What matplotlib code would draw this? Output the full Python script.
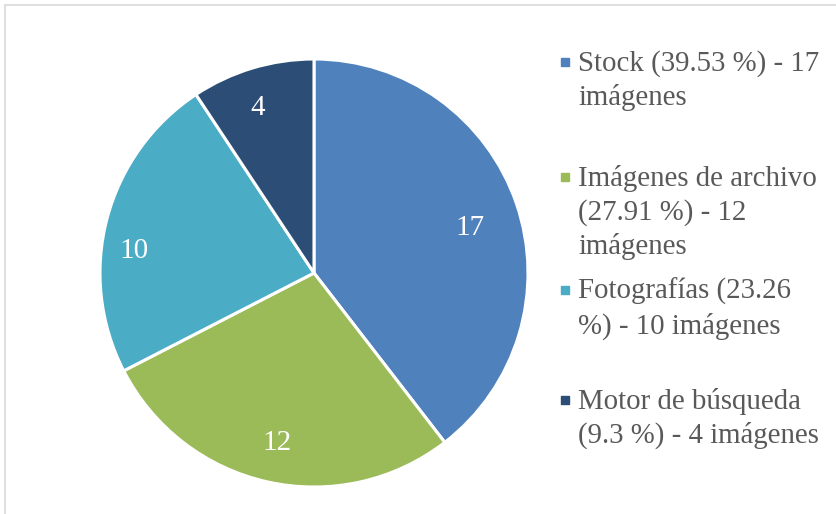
import matplotlib.pyplot as plt
import matplotlib.patches as mpatches
import numpy as np

plt.rcParams['font.family'] = ['Liberation Serif', 'DejaVu Serif']

categorias = ["Stock", "Imágenes de archivo", "Fotografías", "Motor de búsqueda"]
imagenes = [17, 12, 10, 4]
porcentajes = ["39.53", "27.91", "23.26", "9.3"]
colores = ['#4F81BD', '#9BBB59', '#4BACC6', '#2C4D75']

# leyenda con saltos de linea como en el original
leyenda = [
    "Stock (39.53 %) - 17\nimágenes",
    "Imágenes de archivo\n(27.91 %) - 12\nimágenes",
    "Fotografías (23.26\n%) - 10 imágenes",
    "Motor de búsqueda\n(9.3 %) - 4 imágenes",
]
leyenda_y = [62, 177, 290, 400]      # centro de la primera linea (px desde arriba)
dist_etiquetas = [0.765, 0.79, 0.85, 0.836]
giro_etiquetas = [-1.0, 0.0, 6.0, 1.5]

W, H = 837, 514
fig = plt.figure(figsize=(W / 100, H / 100), dpi=100)

# marco gris
fig.patches.append(mpatches.Rectangle((5 / W, -0.02), 1.05, 1 - 5 / H + 0.02,
                                      transform=fig.transFigure, fill=False,
                                      edgecolor='#D9D9D9', linewidth=1.2))

cx, cy, r = 314, 273, 214
ax = fig.add_axes([(cx - r) / W, 1 - (cy + r) / H, 2 * r / W, 2 * r / H])

wedges, textos = ax.pie(imagenes, colors=colores, startangle=90, counterclock=False,
                        labels=[str(v) for v in imagenes], labeldistance=0.8,
                        wedgeprops=dict(edgecolor='white', linewidth=2.2),
                        textprops=dict(color='white', fontsize=21))

for w, t, d, g in zip(wedges, textos, dist_etiquetas, giro_etiquetas):
    ang = np.deg2rad((w.theta1 + w.theta2) / 2 + g)
    t.set_position((d * np.cos(ang), d * np.sin(ang) - 0.025))
    t.set_ha('center')
    t.set_va('center')

ax.set_xlim(-1, 1)
ax.set_ylim(-1, 1)
ax.set_aspect('equal')
ax.axis('off')

for txt, y, col in zip(leyenda, leyenda_y, colores):
    fig.patches.append(mpatches.Rectangle((561 / W, 1 - (y + 4) / H), 8 / W, 8 / H,
                                          transform=fig.transFigure, color=col))
    fig.text(578 / W, 1 - (y - 12) / H, txt, fontsize=20.8, color='#595959',
             ha='left', va='top', linespacing=1.33)

fig.savefig('out.png', dpi=100)
